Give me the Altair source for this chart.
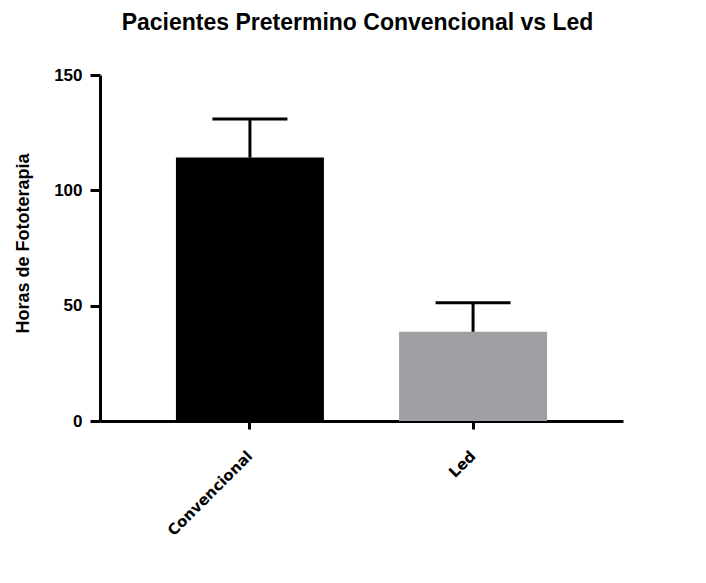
import altair as alt
import pandas as pd

categories = ["Convencional", "Led"]
means = [114.2, 38.7]
errors = [16.7, 12.6]
colors = ["#000000", "#A09FA4"]

df = pd.DataFrame({
    "grupo": categories,
    "media": means,
    "sup": [m + e for m, e in zip(means, errors)],
    "color": colors,
})

FONT = "Liberation Sans"

x = alt.X("grupo:N", sort=categories, title=None,
          scale=alt.Scale(paddingInner=0.336, paddingOuter=0.34),
          axis=alt.Axis(labelAngle=-45, labelAlign="right", labelBaseline="middle",
                        labelFont="DejaVu Sans", labelFontWeight="bold", labelFontSize=15,
                        labelColor="#000000", labelPadding=24,
                        domainColor="#000000", domainWidth=3,
                        tickColor="#000000", tickWidth=3, tickSize=8))
y_scale = alt.Scale(domain=[0, 150], nice=False)
y_axis = alt.Axis(values=[0, 50, 100, 150], grid=False, title="Horas de Fototerapia",
                  labelFont=FONT, labelFontWeight="bold", labelFontSize=17,
                  labelColor="#000000", labelPadding=8,
                  titleFont=FONT, titleFontWeight="bold", titleFontSize=18,
                  titleColor="#000000", titleX=-72, titleY=168, titleAlign="center",
                  titleAngle=-90, titleBaseline="alphabetic",
                  domainColor="#000000", domainWidth=3,
                  tickColor="#000000", tickWidth=3, tickSize=10)

bars = alt.Chart(df).mark_bar(size=148).encode(
    x=x,
    y=alt.Y("media:Q", scale=y_scale, axis=y_axis),
    color=alt.Color("color:N", scale=None),
)

stems = alt.Chart(df).mark_rule(color="#000000", strokeWidth=3).encode(
    x=alt.X("grupo:N", sort=categories),
    y="media:Q",
    y2="sup:Q",
)

caps = alt.Chart(df).mark_tick(color="#000000", size=75, thickness=3, orient="horizontal",
                               opacity=1).encode(
    x=alt.X("grupo:N", sort=categories),
    y="sup:Q",
)

chart = alt.layer(bars, stems, caps).properties(
    width=523, height=346,
    title=alt.TitleParams("Pacientes Pretermino Convencional vs Led", font=FONT,
                          fontSize=23, fontWeight="bold", color="#000000",
                          anchor="middle", baseline="alphabetic", offset=13, dx=-4),
    autosize=alt.AutoSizeParams(type="none"),
    padding={"left": 92, "top": 67, "right": 75, "bottom": 150},
).configure_view(stroke=None)

chart.save("out.html", embed_options={"renderer": "svg", "actions": False})
